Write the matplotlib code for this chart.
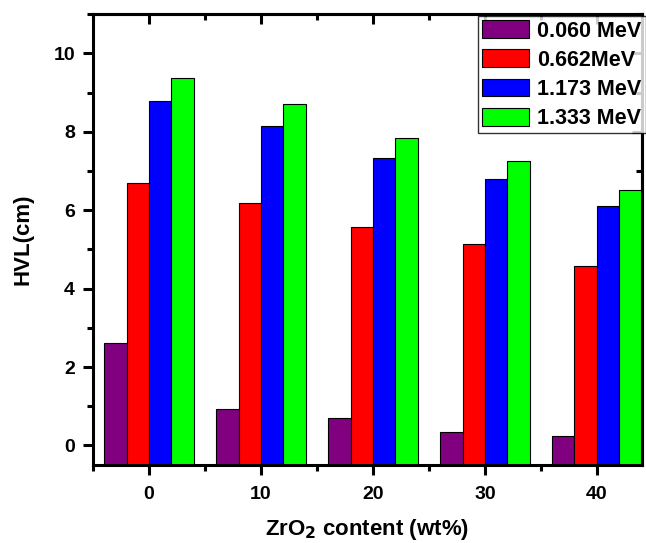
import matplotlib
matplotlib.use('Agg')
import matplotlib.pyplot as plt
import numpy as np
from matplotlib.ticker import MultipleLocator

plt.rcParams['font.family'] = ['Liberation Sans', 'DejaVu Sans']
plt.rcParams['font.weight'] = 'bold'
plt.rcParams['mathtext.default'] = 'bf'

zro2 = [0, 10, 20, 30, 40]
energies = ['0.060 MeV', '0.662MeV', '1.173 MeV', '1.333 MeV']
hvl_0060 = [2.61, 0.93, 0.70, 0.35, 0.24]
hvl_0662 = [6.69, 6.18, 5.57, 5.13, 4.58]
hvl_1173 = [8.79, 8.14, 7.34, 6.80, 6.11]
hvl_1333 = [9.38, 8.70, 7.84, 7.26, 6.52]
colors = ['#800080', '#ff0000', '#0000ff', '#00ff00']

fig = plt.figure(figsize=(6.46, 5.43), dpi=100)
ax = fig.add_axes([0.144, 0.1436, 0.8493, 0.8304])

x = np.array(zro2, dtype=float)
w = 2.0
series = [hvl_0060, hvl_0662, hvl_1173, hvl_1333]
for i, (vals, c, lab) in enumerate(zip(series, colors, energies)):
    ax.bar(x + (i - 1.5) * w, np.array(vals) + 0.5, width=w, bottom=-0.5,
           color=c, edgecolor='black', linewidth=0.8, label=lab, zorder=2)

ax.set_xlim(-5, 44)
ax.set_ylim(-0.5, 11)
ax.set_xticks(zro2)
ax.xaxis.set_minor_locator(MultipleLocator(5))
ax.set_yticks([0, 2, 4, 6, 8, 10])
ax.yaxis.set_minor_locator(MultipleLocator(1))

for s in ax.spines.values():
    s.set_linewidth(2.2)

ax.tick_params(which='both', width=2.2, labelsize=14, direction='out', top=False, right=False)
ax.tick_params(which='major', length=7)
ax.tick_params(which='minor', length=4)
ax.tick_params(axis='x', pad=8)
ax.tick_params(axis='y', pad=6)

# inward ticks on top and right, like Origin
sec_x = ax.secondary_xaxis('top')
sec_x.set_xticks(zro2)
sec_x.xaxis.set_minor_locator(MultipleLocator(5))
sec_x.tick_params(which='both', direction='in', width=2.2, labeltop=False)
sec_x.tick_params(which='major', length=7)
sec_x.tick_params(which='minor', length=4)
sec_x.spines['top'].set_linewidth(2.2)
sec_y = ax.secondary_yaxis('right')
sec_y.set_yticks([0, 2, 4, 6, 8, 10])
sec_y.yaxis.set_minor_locator(MultipleLocator(1))
sec_y.tick_params(which='both', direction='in', width=2.2, labelright=False)
sec_y.tick_params(which='major', length=7)
sec_y.tick_params(which='minor', length=4)
sec_y.spines['right'].set_linewidth(2.2)

for lbl in ax.get_xticklabels() + ax.get_yticklabels():
    lbl.set_fontweight('bold')

ax.set_xlabel('ZrO$_2$ content (wt%)', fontsize=16, fontweight='bold', labelpad=10)
ax.set_ylabel('HVL(cm)', fontsize=16, fontweight='bold', labelpad=14)

leg = fig.legend(loc='upper left', bbox_to_anchor=(478 / 646, 1 - 16 / 543),
                 fontsize=15.5, frameon=True, fancybox=False, edgecolor='black',
                 handlelength=2.15, handleheight=0.9, handletextpad=0.4,
                 labelspacing=0.36, borderpad=0.2, borderaxespad=0)
leg.get_frame().set_linewidth(1.0)
for t in leg.get_texts():
    t.set_fontweight('bold')

fig.savefig('out.png', dpi=100)
